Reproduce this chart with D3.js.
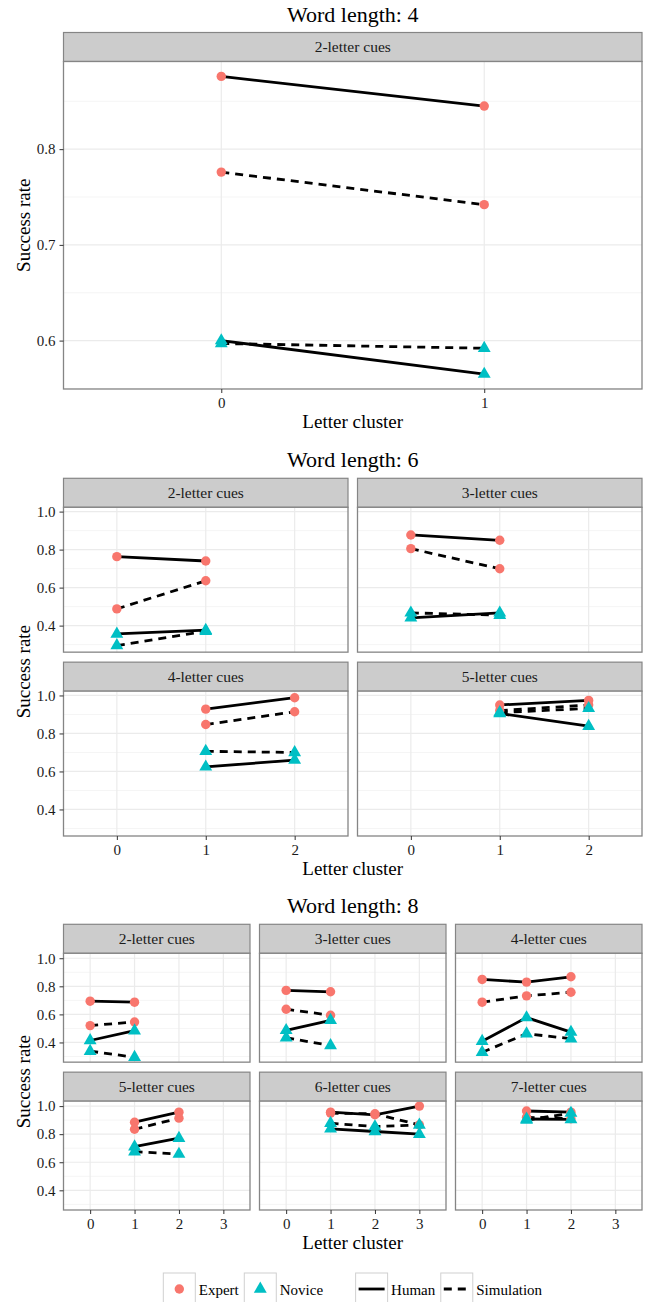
<!DOCTYPE html>
<html>
<head>
<meta charset="utf-8">
<script src="https://cdn.jsdelivr.net/npm/d3@7"></script>
<style>
  body { margin: 0; background: #fff; }
  svg { display: block; font-family: "Liberation Serif", "Times New Roman", serif; }
  svg text { font-family: "Liberation Serif", "Times New Roman", serif; }
</style>
</head>
<body>
<script>
// ---- data ----
var wordLengths = [4, 6, 8];

// word length 4
var clusters4 = ["0", "1"];
var cues4 = ["2-letter cues"];
var yTicks4 = [0.6, 0.7, 0.8];
var expertHuman4 = [[0.876, 0.845]];
var expertSim4   = [[0.776, 0.742]];
var noviceHuman4 = [[0.600, 0.565]];
var noviceSim4   = [[0.597, 0.592]];

// word length 6
var clusters6 = ["0", "1", "2"];
var cues6 = ["2-letter cues", "3-letter cues", "4-letter cues", "5-letter cues"];
var yTicks6 = [0.4, 0.6, 0.8, 1.0];
var expertHuman6 = [[0.763, 0.740, null], [0.877, 0.849, null], [null, 0.928, 0.988], [null, 0.950, 0.974]];
var expertSim6   = [[0.488, 0.636, null], [0.805, 0.699, null], [null, 0.847, 0.914], [null, 0.920, 0.950]];
var noviceHuman6 = [[0.356, 0.376, null], [0.441, 0.467, null], [null, 0.624, 0.660], [null, 0.905, 0.838]];
var noviceSim6   = [[0.295, 0.370, null], [0.467, 0.455, null], [null, 0.706, 0.700], [null, 0.910, 0.932]];

// word length 8
var clusters8 = ["0", "1", "2", "3"];
var cues8 = ["2-letter cues", "3-letter cues", "4-letter cues", "5-letter cues", "6-letter cues", "7-letter cues"];
var yTicks8 = [0.4, 0.6, 0.8, 1.0];
var expertHuman8 = [[0.694, 0.687, null, null], [0.771, 0.761, null, null], [0.849, 0.830, 0.868, null],
                    [null, 0.885, 0.957, null], [null, 0.957, 0.938, 1.000], [null, 0.965, 0.957, null]];
var expertSim8   = [[0.520, 0.546, null, null], [0.637, 0.594, null, null], [0.687, 0.732, 0.758, null],
                    [null, 0.835, 0.914, null], [null, 0.950, 0.945, 0.866], [null, 0.920, 0.910, null]];
var noviceHuman8 = [[0.414, 0.484, null, null], [0.486, 0.558, null, null], [0.409, 0.577, 0.474, null],
                    [null, 0.711, 0.771, null], [null, 0.838, 0.819, 0.800], [null, 0.908, 0.905, null]];
var noviceSim8   = [[0.338, 0.295, null, null], [0.434, 0.378, null, null], [0.330, 0.462, 0.427, null],
                    [null, 0.675, 0.658, null], [null, 0.878, 0.854, 0.866], [null, 0.900, 0.950, null]];

var groups = ["Expert", "Novice"];
var sources = ["Human", "Simulation"];

// ---- layout ----
var width = 647, height = 1302
  , left = 63.5, right = 642
  , stripH = 29, rowGap = 10, colGap = 9.5
  , colour = d3.scaleOrdinal(groups, ["#F8766D", "#00BFC4"])
  , dash = d3.scaleOrdinal(sources, [null, "8,6"])
  , fmt = d3.format(".1f");

var svg = d3.select('body').append('svg').attr('width', width).attr('height', height);

var sections = [
  {wl: wordLengths[0], clusters: clusters4, cues: cues4, yTicks: yTicks4, ncol: 1, nrow: 1, top: 32.5, bottom: 389,
   series: [expertHuman4, expertSim4, noviceHuman4, noviceSim4]},
  {wl: wordLengths[1], clusters: clusters6, cues: cues6, yTicks: yTicks6, ncol: 2, nrow: 2, top: 478.3, bottom: 836,
   series: [expertHuman6, expertSim6, noviceHuman6, noviceSim6]},
  {wl: wordLengths[2], clusters: clusters8, cues: cues8, yTicks: yTicks8, ncol: 3, nrow: 2, top: 924.3, bottom: 1210,
   series: [expertHuman8, expertSim8, noviceHuman8, noviceSim8]}
];
// order of the four series arrays above
var seriesMeta = [
  {group: "Expert", source: "Human"}, {group: "Expert", source: "Simulation"},
  {group: "Novice", source: "Human"}, {group: "Novice", source: "Simulation"}
];

function styleAxis(a) {
  a.attr('font-family', null).attr('font-size', null);
  a.select('.domain').remove();
  a.selectAll('line').attr('stroke', '#333');
  a.selectAll('text').attr('fill', '#1a1a1a').style('font-size', '15px');
}

sections.forEach(function(s) {
  var panelW = (right - left - (s.ncol - 1) * colGap) / s.ncol
    , panelH = (s.bottom - s.top - s.nrow * stripH - (s.nrow - 1) * rowGap) / s.nrow;

  var all = d3.merge(s.series.map(function(a) { return d3.merge(a); })).filter(function(v) { return v != null; })
    , ext = d3.extent(all), pad = (ext[1] - ext[0]) * 0.05;

  var x = d3.scalePoint().domain(s.clusters).range([0, panelW]).padding(0.6)
    , y = d3.scaleLinear().domain([ext[0] - pad, ext[1] + pad]).range([panelH, 0]);

  var step = s.yTicks[1] - s.yTicks[0]
    , minors = s.yTicks.map(function(t) { return t - step / 2; }).concat([s.yTicks[s.yTicks.length - 1] + step / 2])
        .filter(function(t) { return t >= y.domain()[0] && t <= y.domain()[1]; });

  // section title
  svg.append('text').attr('x', (left + right) / 2).attr('y', s.top - 11)
    .attr('text-anchor', 'middle').style('font-size', '22px').text('Word length: ' + s.wl);

  s.cues.forEach(function(cue, i) {
    var col = i % s.ncol, row = Math.floor(i / s.ncol)
      , px = left + col * (panelW + colGap)
      , sy = s.top + row * (stripH + panelH + rowGap)
      , py = sy + stripH;

    // strip
    svg.append('rect').attr('x', px).attr('y', sy).attr('width', panelW).attr('height', stripH)
      .attr('fill', '#cccccc').attr('stroke', '#858585').attr('stroke-width', 1.2);
    svg.append('text').attr('x', px + panelW / 2).attr('y', sy + stripH / 2).attr('dy', '0.35em')
      .attr('text-anchor', 'middle').attr('fill', '#1a1a1a').style('font-size', '15.5px').text(cue);

    var g = svg.append('g').attr('transform', 'translate(' + px + ',' + py + ')');
    g.append('rect').attr('width', panelW).attr('height', panelH).attr('fill', '#fff');

    g.selectAll('.minor').data(minors).enter().append('line')
      .attr('x1', 0).attr('x2', panelW).attr('y1', y).attr('y2', y)
      .attr('stroke', '#f2f2f2').attr('stroke-width', 0.8);
    g.selectAll('.major').data(s.yTicks).enter().append('line')
      .attr('x1', 0).attr('x2', panelW).attr('y1', y).attr('y2', y)
      .attr('stroke', '#ebebeb').attr('stroke-width', 1.2);
    g.selectAll('.vgrid').data(s.clusters).enter().append('line')
      .attr('y1', 0).attr('y2', panelH).attr('x1', x).attr('x2', x)
      .attr('stroke', '#ebebeb').attr('stroke-width', 1.2);

    var line = d3.line()
      .defined(function(d) { return d.v != null; })
      .x(function(d) { return x(d.c); })
      .y(function(d) { return y(d.v); });

    var rows = s.series.map(function(arr, k) {
      return {meta: seriesMeta[k], pts: arr[i].map(function(v, j) { return {c: s.clusters[j], v: v}; })};
    });

    rows.forEach(function(r) {
      g.append('path').datum(r.pts).attr('d', line)
        .attr('fill', 'none').attr('stroke', '#000').attr('stroke-width', 2.8)
        .attr('stroke-dasharray', dash(r.meta.source));
    });
    rows.forEach(function(r) {
      var pts = r.pts.filter(function(d) { return d.v != null; });
      if (r.meta.group === "Expert") {
        g.selectAll(null).data(pts).enter().append('circle')
          .attr('cx', function(d) { return x(d.c); }).attr('cy', function(d) { return y(d.v); })
          .attr('r', 4.7).attr('fill', colour(r.meta.group));
      } else {
        g.selectAll(null).data(pts).enter().append('path')
          .attr('d', d3.symbol(d3.symbolTriangle, 72))
          .attr('transform', function(d) { return 'translate(' + x(d.c) + ',' + y(d.v) + ')'; })
          .attr('fill', colour(r.meta.group));
      }
    });

    g.append('rect').attr('width', panelW).attr('height', panelH)
      .attr('fill', 'none').attr('stroke', '#858585').attr('stroke-width', 1.3);

    if (col === 0) {
      g.append('g').call(d3.axisLeft(y).tickValues(s.yTicks).tickFormat(fmt).tickSize(4).tickPadding(4))
        .call(styleAxis);
    }
    if (i + s.ncol >= s.cues.length) {
      g.append('g').attr('transform', 'translate(0,' + panelH + ')')
        .call(d3.axisBottom(x).tickSize(4).tickPadding(4))
        .call(styleAxis);
    }
  });

  // axis titles
  var cy = (s.top + stripH + s.bottom) / 2;
  svg.append('text').attr('transform', 'translate(29.5,' + cy + ') rotate(-90)')
    .attr('text-anchor', 'middle').style('font-size', '19px').text('Success rate');
  svg.append('text').attr('x', (left + right) / 2).attr('y', s.bottom + 39)
    .attr('text-anchor', 'middle').style('font-size', '19px').text('Letter cluster');
});

// ---- legend ----
var legY = 1273, keyW = 32, lx = 163.3;
var legendItems = groups.map(function(d) { return {kind: 'shape', label: d}; })
  .concat(sources.map(function(d) { return {kind: 'line', label: d}; }));
var leg = svg.append('g');
legendItems.forEach(function(it, k) {
  if (k === groups.length) lx += 27;
  leg.append('rect').attr('x', lx).attr('y', legY).attr('width', keyW).attr('height', keyW)
    .attr('fill', '#fff').attr('stroke', '#d0d0d0').attr('stroke-width', 1);
  var cx = lx + keyW / 2, cy = legY + 16;
  if (it.kind === 'shape') {
    if (it.label === "Expert") {
      leg.append('circle').attr('cx', cx).attr('cy', cy).attr('r', 4.7).attr('fill', colour(it.label));
    } else {
      leg.append('path').attr('d', d3.symbol(d3.symbolTriangle, 72))
        .attr('transform', 'translate(' + cx + ',' + cy + ')').attr('fill', colour(it.label));
    }
  } else {
    leg.append('line').attr('x1', lx + 3).attr('x2', lx + keyW - 3).attr('y1', cy).attr('y2', cy)
      .attr('stroke', '#000').attr('stroke-width', 2.8).attr('stroke-dasharray', dash(it.label));
  }
  var t = leg.append('text').attr('x', lx + keyW + 3.5).attr('y', cy + 5.5)
    .style('font-size', '15px').text(it.label);
  lx += keyW + 3.5 + t.node().getComputedTextLength() + 5.5;
});
</script>
</body>
</html>
